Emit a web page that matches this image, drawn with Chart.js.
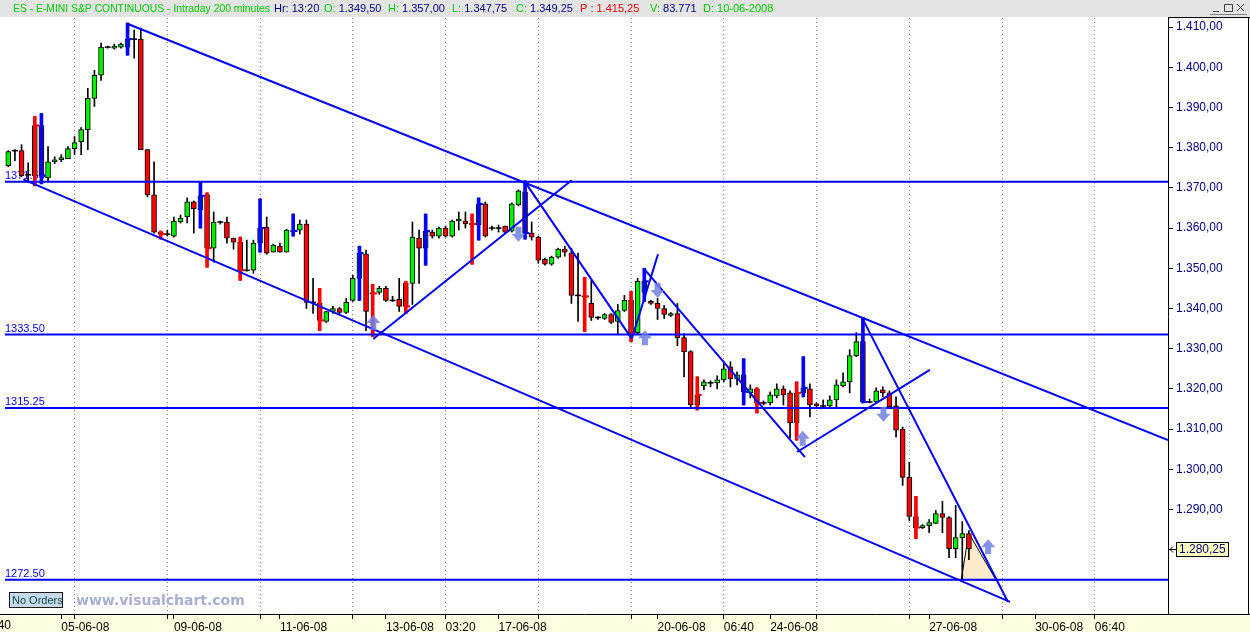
<!DOCTYPE html>
<html>
<head>
<meta charset="utf-8">
<script src="https://cdn.jsdelivr.net/npm/chart.js@4.4.1/dist/chart.umd.min.js"></script>
<style>
  html, body { margin: 0; padding: 0; background: #fff; }
  #wrap { width: 1250px; height: 632px; }
</style>
</head>
<body>
<div id="wrap"><canvas id="c" width="1250" height="632"></canvas></div>
<script>
// ES E-mini S&P, 200 minute bars (bar number -> OHLC)
const opens = [
  1375.5, 1379.25, 1379.25, 1373.25, 1373.0, 1385.5, 1372.5, 1376.5, 1377.0, 1377.25,
  1379.75, 1381.5, 1384.5, 1392.25, 1398.0, 1405.0, 1404.75, 1405.0, 1405.0, 1407.0,
  1407.0, 1379.5, 1368.25, 1359.0, 1358.5, 1358.0, 1361.5, 1362.75, 1366.5, 1364.5,
  1368.25, 1355.0, 1361.5, 1361.5, 1357.5, 1356.5, 1349.5, 1349.5, 1356.25, 1360.25,
  1354.0, 1355.5, 1354.0, 1359.5, 1359.5, 1361.0, 1341.5, 1341.25, 1336.75, 1339.25,
  1340.0, 1339.0, 1342.0, 1347.5, 1353.5, 1344.0, 1344.0, 1345.0, 1342.0, 1342.25,
  1346.25, 1346.25, 1357.5, 1355.0, 1359.0, 1358.0, 1360.0, 1358.0, 1361.75, 1361.75,
  1361.0, 1360.75, 1366.0, 1360.0, 1360.0, 1360.5, 1359.25, 1365.75, 1369.0, 1358.75,
  1357.75, 1352.25, 1351.0, 1352.75, 1354.75, 1353.75, 1343.25, 1343.25, 1341.25, 1337.75,
  1337.5, 1338.5, 1336.75, 1339.5, 1342.0, 1334.0, 1344.0, 1341.75, 1341.25, 1340.0,
  1338.25, 1338.75, 1332.75, 1329.25, 1316.0, 1320.75, 1321.5, 1321.5, 1322.25, 1325.5,
  1322.5, 1323.5, 1319.0, 1320.0, 1316.5, 1316.5, 1318.25, 1320.0, 1319.0, 1311.5,
  1319.0, 1320.0, 1316.25, 1315.75, 1315.75, 1317.25, 1320.75, 1321.75, 1328.25, 1331.75,
  1316.75, 1316.75, 1319.75, 1319.0, 1315.75, 1310.0, 1298.0, 1288.25, 1285.5, 1286.0,
  1286.5, 1289.0, 1288.0, 1280.25, 1283.0, 1284.0
];
const highs = [
  1379.25, 1379.5, 1380.75, 1376.25, 1387.75, 1388.5, 1380.25, 1377.75, 1378.25, 1380.25,
  1382.75, 1385.0, 1394.75, 1399.25, 1406.0, 1405.25, 1405.75, 1406.0, 1411.0, 1409.25,
  1409.75, 1379.5, 1376.5, 1359.25, 1359.5, 1362.75, 1363.25, 1367.5, 1366.75, 1371.5,
  1368.75, 1364.0, 1361.75, 1362.75, 1357.5, 1357.75, 1357.0, 1357.0, 1367.25, 1362.75,
  1356.0, 1356.25, 1359.75, 1363.5, 1362.0, 1362.0, 1347.5, 1345.0, 1339.25, 1340.5,
  1340.25, 1342.5, 1348.25, 1355.5, 1354.5, 1346.0, 1345.5, 1345.5, 1343.0, 1347.5,
  1346.75, 1361.5, 1359.5, 1363.5, 1359.5, 1360.25, 1360.5, 1362.0, 1364.0, 1364.0,
  1363.5, 1367.5, 1366.5, 1360.5, 1360.75, 1360.5, 1366.25, 1369.5, 1371.75, 1361.5,
  1358.0, 1352.5, 1353.0, 1355.0, 1355.5, 1355.0, 1353.75, 1347.75, 1347.0, 1338.0,
  1338.75, 1338.75, 1341.0, 1343.25, 1344.25, 1347.5, 1350.0, 1342.0, 1342.5, 1340.75,
  1339.0, 1341.25, 1333.75, 1329.5, 1323.0, 1322.25, 1322.0, 1323.25, 1326.75, 1326.75,
  1324.25, 1327.5, 1321.0, 1320.25, 1317.0, 1319.25, 1321.25, 1320.75, 1319.5, 1321.75,
  1328.0, 1321.25, 1316.5, 1317.25, 1318.25, 1322.25, 1324.0, 1329.75, 1334.0, 1337.75,
  1317.5, 1320.25, 1320.5, 1319.5, 1318.0, 1310.5, 1301.75, 1293.25, 1286.25, 1287.5,
  1289.75, 1292.0, 1288.25, 1291.0, 1287.0, 1284.75
];
const lows = [
  1375.25, 1376.75, 1372.75, 1371.25, 1370.5, 1371.0, 1371.75, 1376.0, 1376.5, 1377.25,
  1378.25, 1378.25, 1379.5, 1390.25, 1396.75, 1404.75, 1404.5, 1404.75, 1403.0, 1402.25,
  1379.5, 1367.75, 1358.75, 1357.25, 1358.0, 1357.75, 1361.25, 1361.25, 1358.75, 1360.0,
  1350.25, 1351.5, 1361.0, 1356.25, 1354.75, 1347.0, 1349.25, 1348.75, 1354.0, 1353.5,
  1354.0, 1354.0, 1354.0, 1358.0, 1358.5, 1340.0, 1338.75, 1334.5, 1336.5, 1338.75,
  1338.75, 1338.75, 1341.75, 1342.0, 1334.5, 1333.0, 1343.5, 1341.75, 1341.75, 1339.25,
  1338.75, 1341.0, 1346.25, 1350.75, 1357.5, 1357.5, 1357.75, 1357.75, 1359.5, 1360.0,
  1351.0, 1357.0, 1357.75, 1359.5, 1359.0, 1358.75, 1359.0, 1365.5, 1357.25, 1357.0,
  1351.25, 1350.75, 1350.75, 1352.5, 1353.0, 1341.25, 1336.75, 1334.25, 1337.0, 1337.25,
  1337.25, 1336.25, 1333.75, 1339.25, 1331.75, 1333.75, 1341.75, 1341.0, 1337.25, 1337.5,
  1338.0, 1330.75, 1323.0, 1315.25, 1314.75, 1319.75, 1320.5, 1320.0, 1321.75, 1320.5,
  1321.0, 1316.0, 1317.75, 1314.0, 1316.0, 1316.0, 1317.75, 1316.0, 1307.75, 1307.25,
  1318.0, 1313.0, 1315.5, 1315.25, 1315.5, 1315.5, 1320.5, 1319.0, 1328.0, 1316.5,
  1316.5, 1316.5, 1318.0, 1315.25, 1308.0, 1296.0, 1287.25, 1282.75, 1285.25, 1284.25,
  1286.5, 1284.25, 1278.0, 1278.0, 1272.5, 1277.5
];
const closes = [
  1379.0, 1379.25, 1373.0, 1373.25, 1385.5, 1373.0, 1376.5, 1377.0, 1377.5, 1379.75,
  1381.25, 1384.5, 1392.25, 1398.0, 1405.0, 1405.0, 1405.25, 1405.75, 1407.0, 1407.0,
  1379.5, 1368.25, 1359.0, 1358.5, 1358.5, 1361.75, 1362.5, 1366.5, 1364.75, 1368.0,
  1355.0, 1361.5, 1361.5, 1357.5, 1356.5, 1349.5, 1349.5, 1356.25, 1360.0, 1353.75,
  1355.75, 1354.0, 1359.5, 1359.25, 1361.0, 1341.5, 1341.5, 1337.0, 1339.25, 1340.0,
  1339.0, 1341.5, 1347.5, 1353.75, 1339.25, 1343.75, 1345.0, 1342.0, 1342.0, 1340.5,
  1340.5, 1357.75, 1355.0, 1359.25, 1358.0, 1360.0, 1358.0, 1361.75, 1362.25, 1361.0,
  1361.0, 1366.0, 1358.0, 1360.0, 1360.0, 1359.0, 1366.0, 1369.25, 1358.75, 1357.75,
  1352.0, 1351.0, 1352.75, 1354.75, 1354.0, 1343.25, 1343.25, 1343.0, 1337.75, 1337.75,
  1338.5, 1336.5, 1339.5, 1342.0, 1333.75, 1346.75, 1346.75, 1341.25, 1340.0, 1338.5,
  1338.75, 1332.75, 1329.25, 1316.0, 1318.5, 1321.75, 1321.5, 1322.25, 1325.0, 1322.5,
  1323.5, 1319.25, 1320.0, 1316.5, 1316.5, 1318.5, 1320.0, 1318.5, 1311.5, 1319.0,
  1320.25, 1316.0, 1315.75, 1315.75, 1317.25, 1321.0, 1321.75, 1328.25, 1331.75, 1316.75,
  1316.75, 1319.5, 1319.0, 1315.5, 1309.75, 1298.0, 1288.25, 1285.5, 1286.0, 1286.75,
  1289.0, 1288.0, 1280.25, 1283.0, 1284.0, 1280.25
];

// signal bars painted over the candles
const blueBars = [6, 19, 30, 39, 44, 54, 64, 72, 79, 97, 112, 121, 130];
const redBars = [5, 24, 31, 36, 48, 56, 61, 71, 88, 95, 105, 114, 120, 138];

// horizontal levels
const levels = [1371.5, 1333.5, 1315.25, 1272.5];
const levelLabels = ['1371.50', '1333.50', '1315.25', '1272.50'];

// drawn trend lines: [barFrom, priceFrom, barTo, priceTo]
const trendLines = [
  [19.07, 1410.75, 176.05, 1307.25],
  [3.26, 1372.1, 152.2, 1267.0],
  [56.09, 1332.4, 86.04, 1371.9],
  [78.99, 1371.5, 95.1, 1332.5],
  [95.14, 1332.6, 99.07, 1353.5],
  [97.1, 1349.6, 121.25, 1303.0],
  [120.05, 1304.3, 140.1, 1324.7],
  [129.9, 1337.6, 151.9, 1267.0]
];
const triangle = [[144.85, 1272.6], [145.98, 1284.1], [150.1, 1272.4], [144.85, 1272.6]];

// arrows: [bar, tip price]
const arrowsUp = [[56.1, 1338.4], [97.1, 1334.6], [120.9, 1309.6], [148.9, 1282.6]];
const arrowsDown = [[78.0, 1356.6], [99.0, 1342.6], [133.1, 1311.8]];

// axis ticks
const yTicks = [1280, 1290, 1300, 1310, 1320, 1330, 1340, 1350, 1360, 1370, 1380, 1390, 1400, 1410];
const gridBars = [11, 25, 39, 53, 67, 81, 95, 109, 123, 137, 151, 165];
const xLabels = {
  9: '05-06-08', 26: '09-06-08', 42: '11-06-08', 58: '13-06-08', 67: '03:20',
  75: '17-06-08', 99: '20-06-08', 109: '06:40', 116: '24-06-08', 140: '27-06-08',
  156: '30-06-08', 165: '06:40'
};

const GREEN = '#00F000';
const RED = '#FF0000';
const BLUE = '#0000FF';
const NAVY = '#000080';
const TXT_GREEN = '#00CC00';

Chart.defaults.font.family = '"Liberation Sans", Arial, sans-serif';

const wicks = [], bodies = [], bodyColors = [], dojis = [];
opens.forEach((o, i) => {
  const x = i + 1;
  wicks.push({ x, y: [lows[i], highs[i]] });
  if (Math.abs(closes[i] - o) < 0.3) {
    dojis.push({ x, y: closes[i] });
  } else {
    bodies.push({ x, y: [o, closes[i]] });
    bodyColors.push(closes[i] > o ? GREEN : RED);
  }
});
const marks = list => list.map(n => ({ x: n, y: [lows[n - 1], highs[n - 1]] }));
const markTicks = list => list.map(n => ({ x: n + 0.35, y: closes[n - 1] }));

const lineSet = (data, extra) => Object.assign({
  type: 'line', data, borderColor: BLUE, borderWidth: 2, pointRadius: 0, fill: false, order: 2
}, extra);

const fmt = v => {
  const s = v.toFixed(2).split('.');
  return s[0].replace(/\B(?=(\d{3})+(?!\d))/g, '.') + ',' + s[1];
};

const decor = {
  id: 'decor',
  beforeDraw(chart) {
    const { ctx, chartArea: a } = chart;
    ctx.save();
    ctx.fillStyle = '#ffffff';
    ctx.fillRect(0, 0, 1250, 632);
    ctx.fillStyle = '#FFFFE1';
    ctx.fillRect(0, a.bottom, 1250, 632 - a.bottom);
    ctx.fillStyle = '#E4E4E4';
    ctx.fillRect(0, 0, 1250, a.top - 1);
    ctx.restore();
  },
  beforeDatasetsDraw(chart) {
    const { ctx } = chart;
    const y = chart.scales.y;
    ctx.save();
    ctx.font = '11px "Liberation Sans", Arial, sans-serif';
    ctx.fillStyle = BLUE;
    ctx.textBaseline = 'alphabetic';
    levels.forEach((v, i) => ctx.fillText(levelLabels[i], 5, y.getPixelForValue(v) - 3));
    ctx.restore();
  },
  afterDatasetsDraw(chart) {
    const { ctx } = chart;
    const xs = chart.scales.x, ys = chart.scales.y;
    const draw = (p, up) => {
      const x = xs.getPixelForValue(p[0]), y = ys.getPixelForValue(p[1]);
      const d = up ? 1 : -1;
      ctx.beginPath();
      ctx.moveTo(x, y);
      ctx.lineTo(x + 7, y + d * 8);
      ctx.lineTo(x + 3, y + d * 8);
      ctx.lineTo(x + 3, y + d * 15);
      ctx.lineTo(x - 3, y + d * 15);
      ctx.lineTo(x - 3, y + d * 8);
      ctx.lineTo(x - 7, y + d * 8);
      ctx.closePath();
      ctx.fill();
    };
    ctx.save();
    ctx.fillStyle = 'rgba(110,128,226,0.85)';
    arrowsUp.forEach(p => draw(p, true));
    arrowsDown.forEach(p => draw(p, false));
    ctx.restore();
  },
  afterDraw(chart) {
    const { ctx, chartArea: a } = chart;
    const ys = chart.scales.y;
    ctx.save();
    // header
    ctx.font = '11px "Liberation Sans", Arial, sans-serif';
    ctx.textBaseline = 'alphabetic';
    const title = 'ES - E-MINI S&P CONTINUOUS - Intraday 200 minutes';
    const tw = ctx.measureText(title).width;
    ctx.save();
    ctx.translate(13, 0);
    ctx.scale(Math.min(1, 257 / tw), 1);
    ctx.fillStyle = TXT_GREEN;
    ctx.fillText(title, 0, 12);
    ctx.restore();
    const head = [
      [274, [['Hr: 13:20', NAVY]]],
      [324, [['O: ', TXT_GREEN], ['1.349,50', NAVY]]],
      [388, [['H: ', TXT_GREEN], ['1.357,00', NAVY]]],
      [452, [['L: ', TXT_GREEN], ['1.347,75', NAVY]]],
      [516, [['C: ', TXT_GREEN], ['1.349,25', NAVY]]],
      [580, [['P : 1.415,25', RED]]],
      [650, [['V: ', TXT_GREEN], ['83.771', NAVY]]],
      [703, [['D: 10-06-2008', TXT_GREEN]]]
    ];
    head.forEach(([x, parts]) => {
      parts.forEach(([t, c]) => {
        ctx.fillStyle = c;
        ctx.fillText(t, x, 12);
        x += ctx.measureText(t).width;
      });
    });
    // window buttons
    ctx.strokeStyle = '#404040';
    ctx.lineWidth = 1;
    ctx.beginPath();
    ctx.moveTo(1213, 11.5); ctx.lineTo(1219, 11.5);
    ctx.rect(1224.5, 4.5, 8, 7);
    ctx.moveTo(1237, 4); ctx.lineTo(1244, 11);
    ctx.moveTo(1244, 4); ctx.lineTo(1237, 11);
    ctx.stroke();
    ctx.strokeStyle = '#808080';
    ctx.beginPath();
    ctx.moveTo(1210, 14.5); ctx.lineTo(1247, 14.5);
    ctx.stroke();
    // right panel frame
    ctx.strokeStyle = '#000';
    ctx.beginPath();
    ctx.moveTo(a.right, a.top - 0.5); ctx.lineTo(1250, a.top - 0.5);
    ctx.moveTo(1248.5, a.top); ctx.lineTo(1248.5, a.bottom);
    ctx.moveTo(a.right, a.bottom + 0.5); ctx.lineTo(1250, a.bottom + 0.5);
    ctx.stroke();
    // cut-off time label at the left edge of the time axis
    ctx.fillStyle = '#000';
    ctx.font = '12px "Liberation Sans", Arial, sans-serif';
    ctx.textAlign = 'right';
    ctx.fillText('06:40', 11, 629);
    ctx.textAlign = 'left';
    // last price marker
    const last = closes[closes.length - 1];
    const py = Math.round(ys.getPixelForValue(last)) + 0.5;
    ctx.fillStyle = '#FFFFC0';
    ctx.fillRect(1176.5, py - 7, 52, 14);
    ctx.strokeRect(1176.5, py - 7, 52, 14);
    ctx.beginPath();
    ctx.moveTo(1170, py); ctx.lineTo(1176, py);
    ctx.moveTo(1170, py); ctx.lineTo(1173, py - 3);
    ctx.moveTo(1170, py); ctx.lineTo(1173, py + 3);
    ctx.stroke();
    ctx.fillStyle = NAVY;
    ctx.font = '12px "Liberation Sans", Arial, sans-serif';
    ctx.textBaseline = 'middle';
    ctx.fillText(fmt(last), 1179, py + 0.5);
    // No Orders box
    ctx.fillStyle = '#C9D9EC';
    ctx.fillRect(9.5, 592.5, 53, 15);
    ctx.strokeStyle = '#1a1a1a';
    ctx.strokeRect(9.5, 592.5, 53, 15);
    ctx.fillStyle = '#0E4A4A';
    ctx.font = '11px "Liberation Sans", Arial, sans-serif';
    ctx.textBaseline = 'alphabetic';
    ctx.fillText('No Orders', 12, 604);
    // watermark
    ctx.fillStyle = '#A9AED3';
    ctx.font = 'bold 14px "DejaVu Sans", Verdana, sans-serif';
    ctx.fillText('www.visualchart.com', 76, 605);
    ctx.restore();
  }
};

new Chart(document.getElementById('c'), {
  type: 'bar',
  data: {
    datasets: [
      lineSet(triangle, { borderColor: '#000', borderWidth: 1, fill: 'shape', backgroundColor: '#FBEBCB', order: 12 }),
      { type: 'bar', data: wicks, backgroundColor: '#000', barThickness: 1, grouped: false, order: 10 },
      { type: 'bar', data: bodies, backgroundColor: bodyColors, borderColor: '#000', borderWidth: 1,
        borderSkipped: false, barThickness: 5, grouped: false, order: 9 },
      { type: 'line', data: dojis, showLine: false, pointStyle: 'line', pointRadius: 3,
        pointBorderColor: '#000', pointBorderWidth: 1.5, order: 8 },
      { type: 'bar', data: marks(blueBars), backgroundColor: BLUE, barThickness: 3, grouped: false, order: 7 },
      { type: 'bar', data: marks(redBars), backgroundColor: RED, barThickness: 3, grouped: false, order: 7 },
      { type: 'line', data: markTicks(blueBars), showLine: false, pointStyle: 'line', pointRadius: 2,
        pointBorderColor: BLUE, pointBorderWidth: 2, order: 7 },
      { type: 'line', data: markTicks(redBars), showLine: false, pointStyle: 'line', pointRadius: 2,
        pointBorderColor: RED, pointBorderWidth: 2, order: 7 },
      ...levels.map(v => lineSet([{ x: 0.5, y: v }, { x: 176.05, y: v }])),
      ...trendLines.map(t => lineSet([{ x: t[0], y: t[1] }, { x: t[2], y: t[3] }]))
    ]
  },
  options: {
    responsive: false,
    animation: false,
    layout: { autoPadding: false, padding: { top: 18, left: 0, right: 0, bottom: 0 } },
    plugins: { legend: { display: false }, tooltip: { enabled: false } },
    scales: {
      x: {
        type: 'linear',
        min: -0.253,
        max: 176.05,
        offset: false,
        afterBuildTicks: s => {
          const vals = [...new Set([...gridBars, ...Object.keys(xLabels).map(Number)])].sort((a, b) => a - b);
          s.ticks = vals.map(v => ({ value: v }));
        },
        afterFit: s => { s.height = 18; s.paddingLeft = 0; s.paddingRight = 0; },
        ticks: {
          autoSkip: false,
          maxRotation: 0,
          align: 'start',
          padding: 1,
          color: '#000',
          font: { size: 12 },
          callback: v => xLabels[v] || ''
        },
        grid: {
          offset: false,
          color: c => (c.tick && gridBars.includes(c.tick.value)) ? '#808080' : 'rgba(0,0,0,0)',
          lineWidth: 1,
          tickLength: 5,
          tickColor: '#000'
        },
        border: { color: '#000', width: 1, dash: [1, 3] }
      },
      y: {
        position: 'right',
        min: 1264,
        max: 1412.25,
        beginAtZero: false,
        afterBuildTicks: s => { s.ticks = yTicks.map(v => ({ value: v })); },
        afterFit: s => { s.width = 82; },
        ticks: { color: NAVY, font: { size: 12 }, padding: 3, callback: v => fmt(v) },
        grid: { drawOnChartArea: false, tickLength: 5, tickColor: '#000' },
        border: { color: '#000', width: 1 }
      }
    }
  },
  plugins: [decor]
});
</script>
</body>
</html>
